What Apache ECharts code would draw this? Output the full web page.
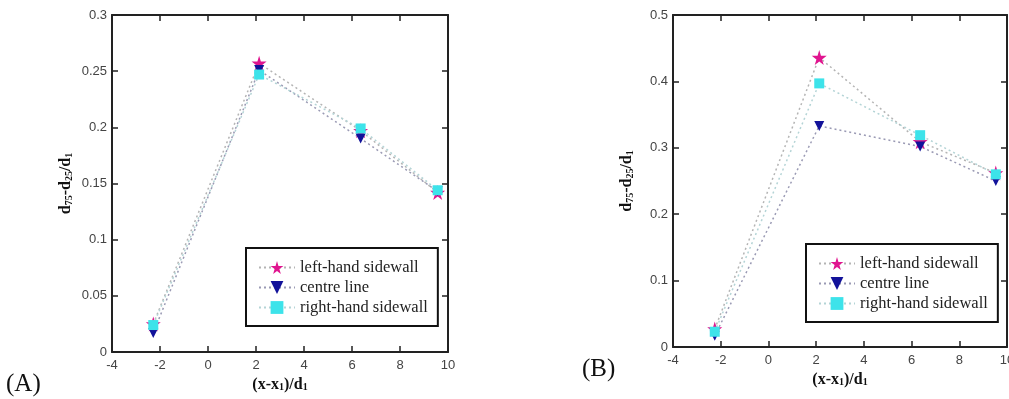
<!DOCTYPE html>
<html>
<head>
<meta charset="utf-8">
<script src="https://cdn.jsdelivr.net/npm/echarts@6/dist/echarts.min.js"></script>
<style>
  body { margin: 0; background: #fff; }
  #chart { width: 1009px; height: 399px; }
</style>
</head>
<body>
<div id="chart"></div>
<script>
// x positions of the four measuring stations, (x-x1)/d1
const stationsA = [-2.28, 2.13, 6.36, 9.57];
const stationsB = [-2.25, 2.13, 6.36, 9.53];

// panel (A)
const leftA = [0.025, 0.257, 0.197, 0.142];
const centreA = [0.017, 0.251, 0.190, 0.143];
const rightA = [0.024, 0.247, 0.199, 0.144];

// panel (B)
const leftB = [0.027, 0.436, 0.309, 0.262];
const centreB = [0.017, 0.333, 0.302, 0.250];
const rightB = [0.023, 0.397, 0.319, 0.260];

const xTicks = ['-4', '-2', '0', '2', '4', '6', '8', '10'];
const yTicksA = ['0', '0.05', '0.1', '0.15', '0.2', '0.25', '0.3'];
const yTicksB = ['0', '0.1', '0.2', '0.3', '0.4', '0.5'];

const names = ['left-hand sidewall', 'centre line', 'right-hand sidewall'];

const STAR = 'path://M50,0 L61,35 L98,35 L68,57 L79,91 L50,70 L21,91 L32,57 L2,35 L39,35 Z';
const TRI_DOWN = 'path://M0,0 L10,0 L5,9 Z';

const looks = [
  { symbol: STAR, size: 15, color: '#e0158f', line: '#b4b4b4' },
  { symbol: TRI_DOWN, size: 10, color: '#12129a', line: '#9a9ab4' },
  { symbol: 'rect', size: 10, color: '#3de3ea', line: '#b4d4d6' }
];

const pairs = (xs, ys) => xs.map((x, i) => [x, ys[i]]);

const axisLine = { onZero: false, lineStyle: { color: '#222', width: 2 } };
const tick = { inside: true, length: 6, lineStyle: { color: '#222', width: 1.5 } };
const tickLabel = { fontFamily: 'Liberation Sans', fontSize: 13, color: '#444' };
const titleRich = {
  sub: { fontFamily: 'Liberation Serif', fontWeight: 'bold', fontSize: 10, verticalAlign: 'bottom' }
};
const titleStyle = { fontFamily: 'Liberation Serif', fontWeight: 'bold', fontSize: 16, color: '#111', rich: titleRich };

function xAxes(grid) {
  return [
    {
      type: 'value', gridIndex: grid, min: -4, max: 10, interval: 2,
      name: '(x-x{sub|1})/d{sub|1}', nameLocation: 'middle', nameGap: 23,
      nameTextStyle: titleStyle,
      axisLine: axisLine, axisTick: tick, splitLine: { show: false },
      axisLabel: Object.assign({ margin: 7, formatter: (v, i) => xTicks[i] }, tickLabel)
    },
    {
      type: 'value', gridIndex: grid, position: 'top', min: -4, max: 10, interval: 2,
      axisLine: axisLine, axisTick: tick, splitLine: { show: false }, axisLabel: { show: false }
    }
  ];
}

function yAxes(grid, max, step, labels) {
  return [
    {
      type: 'value', gridIndex: grid, min: 0, max: max, interval: step,
      name: 'd{sub|75}-d{sub|25}/d{sub|1}', nameLocation: 'middle', nameGap: 38, nameRotate: 90,
      nameTextStyle: titleStyle,
      axisLine: axisLine, axisTick: tick, splitLine: { show: false },
      axisLabel: Object.assign({ margin: 5, formatter: (v, i) => labels[i] }, tickLabel)
    },
    {
      type: 'value', gridIndex: grid, position: 'right', min: 0, max: max, interval: step,
      axisLine: axisLine, axisTick: tick, splitLine: { show: false }, axisLabel: { show: false }
    }
  ];
}

function panelSeries(grid, xs, sets) {
  return sets.map((ys, k) => ({
    name: names[k],
    type: 'line',
    xAxisIndex: grid * 2,
    yAxisIndex: grid * 2,
    data: pairs(xs, ys),
    symbol: looks[k].symbol,
    symbolSize: looks[k].size,
    itemStyle: { color: looks[k].color },
    lineStyle: { color: looks[k].line, width: 1.5, type: [2, 3] },
    emphasis: { disabled: true },
    animation: false
  }));
}

function legendAt(left, top) {
  return {
    data: names, orient: 'vertical', left: left, top: top,
    itemWidth: 36, itemHeight: 16, itemGap: 3,
    padding: [11, 10, 10, 12],
    borderColor: '#111', borderWidth: 2,
    selectedMode: false,
    textStyle: { fontFamily: 'Liberation Serif', fontSize: 16.5, color: '#222' }
  };
}

const chart = echarts.init(document.getElementById('chart'), null, { renderer: 'canvas' });
chart.setOption({
  backgroundColor: '#fff',
  animation: false,
  grid: [
    { left: 112, top: 15, width: 336, height: 337, outerBoundsMode: 'none', containLabel: false },
    { left: 673, top: 15, width: 334, height: 332, outerBoundsMode: 'none', containLabel: false }
  ],
  xAxis: xAxes(0).concat(xAxes(1)),
  yAxis: yAxes(0, 0.3, 0.05, yTicksA).concat(yAxes(1, 0.5, 0.1, yTicksB)),
  legend: [legendAt(246, 248), legendAt(806, 244)],
  series: panelSeries(0, stationsA, [leftA, centreA, rightA])
    .concat(panelSeries(1, stationsB, [leftB, centreB, rightB])),
  graphic: [
    { type: 'text', left: 6, top: 372, style: { text: '(A)', fontFamily: 'Liberation Serif', fontSize: 25, fill: '#111' } },
    { type: 'text', left: 582, top: 357, style: { text: '(B)', fontFamily: 'Liberation Serif', fontSize: 25, fill: '#111' } }
  ]
});
</script>
</body>
</html>
